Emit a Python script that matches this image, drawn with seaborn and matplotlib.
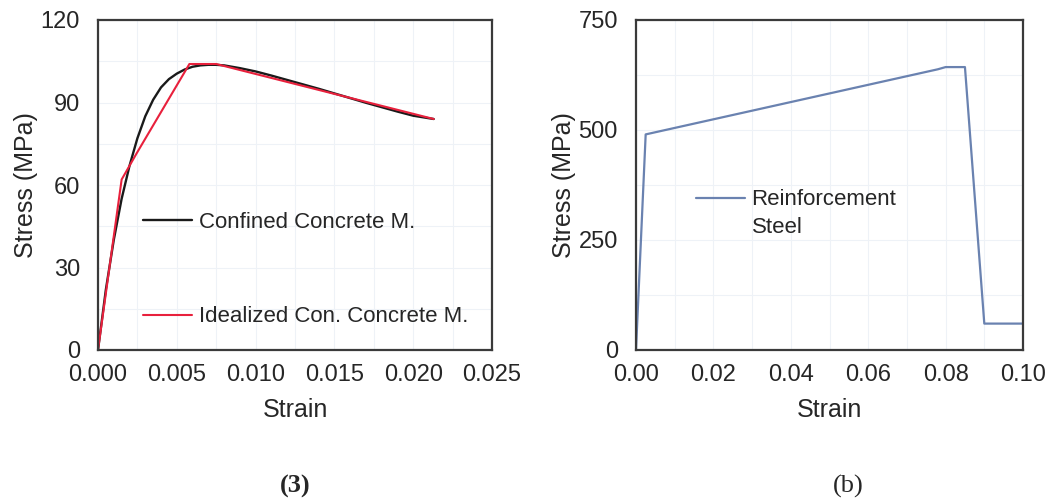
import numpy as np
import pandas as pd
import matplotlib
matplotlib.use("Agg")
import matplotlib.pyplot as plt
from matplotlib.lines import Line2D
import seaborn as sns
from matplotlib.ticker import MultipleLocator

# Confined concrete model (Mander-type curve)
conf_strain = [0.0, 0.0005, 0.0010, 0.0015, 0.0020, 0.0025, 0.0030, 0.0035, 0.0040, 0.0045,
               0.0050, 0.0055, 0.0060, 0.0065, 0.0070, 0.0075, 0.0080, 0.0090, 0.0100,
               0.0110, 0.0120, 0.0130, 0.0140, 0.0150, 0.0160, 0.0170, 0.0180, 0.0190,
               0.0200, 0.0213]
conf_stress = [0.0, 22.0, 40.0, 55.0, 67.0, 77.0, 85.0, 91.0, 95.5, 98.5,
               100.5, 102.0, 103.0, 103.5, 103.7, 103.7, 103.5, 102.5, 101.3,
               99.8, 98.2, 96.6, 95.0, 93.3, 91.6, 89.9, 88.3, 86.7,
               85.2, 84.0]

# Idealized (multi-linear) confined concrete model
ideal_strain = [0.0, 0.0015, 0.00245, 0.0058, 0.0075, 0.0213]
ideal_stress = [0.0, 62.0, 71.5, 104.0, 104.0, 84.0]

# Reinforcement steel model
steel_strain = [0.0, 0.0025, 0.078, 0.080, 0.085, 0.090, 0.100]
steel_stress = [0.0, 490.0, 638.0, 643.0, 643.0, 60.0, 60.0]

sns.set_theme(style="white")
plt.rcParams["font.family"] = ["Liberation Sans", "DejaVu Sans"]

fig = plt.figure(figsize=(10.57, 5.04), dpi=100)
ax1 = fig.add_axes([98 / 1057, 1 - 350 / 504, 394 / 1057, 330 / 504])
ax2 = fig.add_axes([636 / 1057, 1 - 350 / 504, 387 / 1057, 330 / 504])

df_conf = pd.DataFrame({"Strain": conf_strain, "Stress": conf_stress})
df_ideal = pd.DataFrame({"Strain": ideal_strain, "Stress": ideal_stress})
df_steel = pd.DataFrame({"Strain": steel_strain, "Stress": steel_stress})

sns.lineplot(data=df_conf, x="Strain", y="Stress", ax=ax1, color="#1a1a1a",
             lw=1.7, sort=False, label="Confined Concrete M.")
sns.lineplot(data=df_ideal, x="Strain", y="Stress", ax=ax1, color="#e8203c",
             lw=1.5, sort=False, label="Idealized Con. Concrete M.")
sns.lineplot(data=df_steel, x="Strain", y="Stress", ax=ax2, color="#6a82b0",
             lw=1.6, sort=False, label="Reinforcement")

tick_fs = 17
label_fs = 18
legend_fs = 16
text_color = "#262626"

ax1.set_xlim(0, 0.025)
ax1.set_ylim(0, 120)
ax1.xaxis.set_major_locator(MultipleLocator(0.005))
ax1.yaxis.set_major_locator(MultipleLocator(30))
ax1.xaxis.set_minor_locator(MultipleLocator(0.0025))
ax1.yaxis.set_minor_locator(MultipleLocator(15))
ax1.set_xticklabels([f"{v:.3f}" for v in ax1.get_xticks()])

ax2.set_xlim(0, 0.10)
ax2.set_ylim(0, 750)
ax2.xaxis.set_major_locator(MultipleLocator(0.02))
ax2.yaxis.set_major_locator(MultipleLocator(250))
ax2.xaxis.set_minor_locator(MultipleLocator(0.01))
ax2.yaxis.set_minor_locator(MultipleLocator(125))
ax2.set_xticklabels([f"{v:.2f}" for v in ax2.get_xticks()])

for ax in (ax1, ax2):
    ax.grid(which="both", color="#eef2f7", lw=0.8)
    ax.set_axisbelow(True)
    for s in ax.spines.values():
        s.set_color("#3a3a3a")
        s.set_linewidth(1.6)
    ax.tick_params(axis="both", which="both", length=0, labelsize=tick_fs,
                   colors=text_color)
    ax.tick_params(axis="x", pad=10)
    ax.tick_params(axis="y", pad=13)
    ax.set_xlabel("Strain", fontsize=label_fs, color=text_color, labelpad=9)
    ax.set_ylabel("Stress (MPa)", fontsize=label_fs, color=text_color, labelpad=2)

ax1.legend(loc="upper left", bbox_to_anchor=(0.115, 0.418), frameon=False,
           fontsize=legend_fs, handlelength=2.2, handletextpad=0.3,
           labelspacing=3.3, borderaxespad=0, borderpad=0)

# Steel legend: the line handle sits beside the first text row only
steel_line = ax2.get_lines()[0]
blank = Line2D([], [], color="none")
ax2.legend(handles=[steel_line, blank], labels=["Reinforcement", "Steel"],
           loc="upper left", bbox_to_anchor=(0.155, 0.487), frameon=False,
           fontsize=legend_fs, handlelength=2.2, handletextpad=0.3,
           labelspacing=0.3, borderaxespad=0, borderpad=0)

fig.text(295 / 1057, 1 - 486 / 504, "(3)", ha="center", va="center",
         fontsize=19, fontweight="bold", family=["Liberation Serif", "DejaVu Serif"])
fig.text(848 / 1057, 1 - 486 / 504, "(b)", ha="center", va="center",
         fontsize=19, family=["Liberation Serif", "DejaVu Serif"])

fig.savefig("out.png", dpi=100, facecolor="white")
